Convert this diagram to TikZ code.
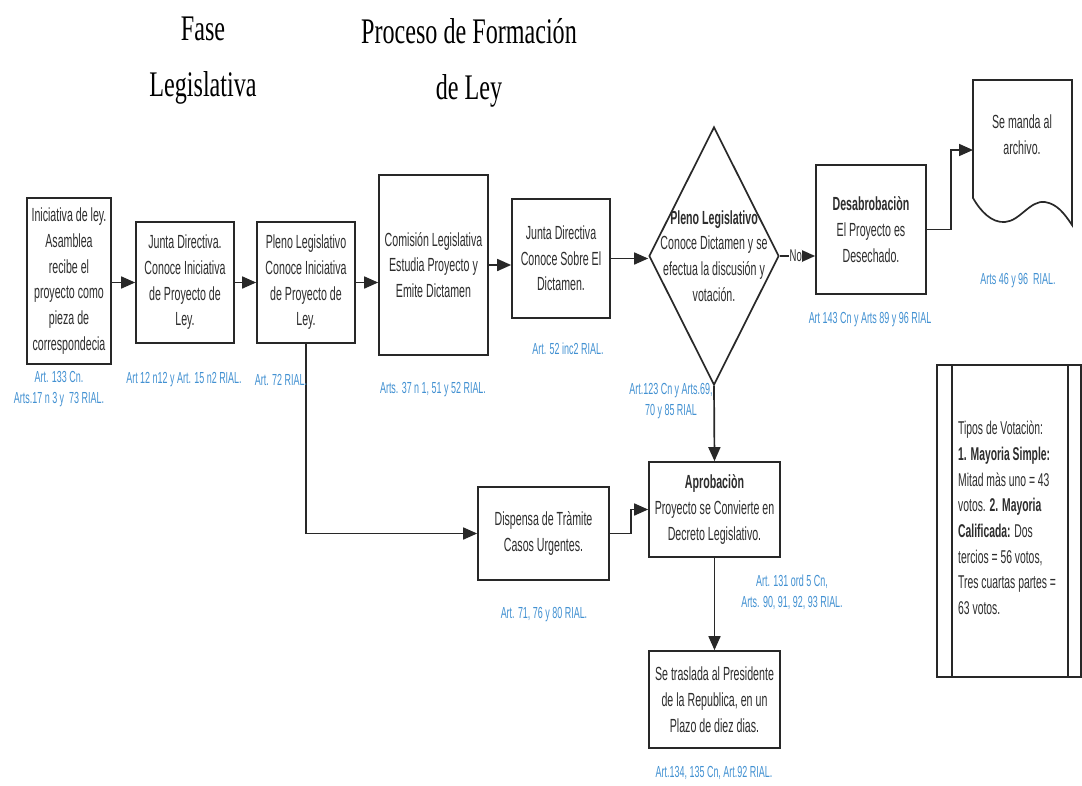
\documentclass[tikz,border=0pt]{standalone}
\usepackage{fontspec}
\setmainfont{Liberation Sans}[FakeStretch=0.56]
\newfontfamily\titlefont{Liberation Serif}[FakeStretch=0.67]
\usetikzlibrary{arrows.meta,shapes.geometric,calc}
\definecolor{lineclr}{RGB}{40,40,40}
\definecolor{txtclr}{RGB}{45,45,45}
\definecolor{refclr}{RGB}{66,145,210}
\tikzset{
  box/.style={draw=lineclr, line width=1.7pt, inner sep=0pt, align=center,
    text=txtclr, font=\fontsize{19}{25.7}\selectfont},
  reflabel/.style={text=refclr, align=center, inner sep=0pt,
    font=\fontsize{16}{21.5}\selectfont},
  bodytext/.style={text=txtclr, align=center, inner sep=0pt,
    font=\fontsize{19}{25.7}\selectfont},
  titletext/.style={text=black, align=center, inner sep=0pt,
    font=\titlefont\fontsize{36}{56}\selectfont},
  arr/.style={draw=lineclr, line width=1.7pt, -{Triangle[length=14pt,width=12pt]}},
  conn/.style={draw=lineclr, line width=1.7pt},
}
\begin{document}
\begin{tikzpicture}[x=1pt,y=-1pt]
\useasboundingbox (0,0) rectangle (1082,785);
\fill[white] (0,0) rectangle (1082,785);

% titles
\node[titletext] (t1) at (203,61) {Fase\\Legislativa};
\node[titletext] (t2) at (469,63) {Proceso de Formación\\de Ley};

% boxes
\node[box, minimum width=84pt, minimum height=166pt] (b1) at (69,281)
  {Iniciativa de ley.\\Asamblea\\recibe el\\proyecto como\\pieza de\\correspondecia};
\node[box, minimum width=98pt, minimum height=121pt] (b2) at (185,282.5)
  {Junta Directiva.\\Conoce Iniciativa\\de Proyecto de\\Ley.};
\node[box, minimum width=98pt, minimum height=121pt] (b3) at (306,282.5)
  {Pleno Legislativo\\Conoce Iniciativa\\de Proyecto de\\Ley.};
\node[box, minimum width=109pt, minimum height=180pt] (b4) at (433.5,265)
  {Comisión Legislativa\\Estudia Proyecto y\\Emite Dictamen};
\node[box, minimum width=98pt, minimum height=119pt] (b5) at (561,258.5)
  {Junta Directiva\\Conoce Sobre El\\Dictamen.};
\node[diamond, draw=lineclr, line width=1.7pt, inner sep=0pt,
  minimum width=130pt, minimum height=258pt] (d) at (714,256) {};
\node[bodytext] (dt) at (714,256)
  {\textbf{Pleno Legislativo}\\Conoce Dictamen y se\\efectua la discusión y\\votación.};
\node[box, minimum width=110pt, minimum height=129pt] (b7) at (871,229.5)
  {\textbf{Desabrobaciòn}\\El Proyecto es\\Desechado.};
\node[box, minimum width=131pt, minimum height=95pt] (b9) at (714.5,509.5)
  {\textbf{Aprobaciòn}\\Proyecto se Convierte en\\Decreto Legislativo.};
\node[box, minimum width=131pt, minimum height=93pt] (b10) at (543.5,533.5)
  {Dispensa de Tràmite\\Casos Urgentes.};
\node[box, minimum width=131pt, minimum height=97pt] (b11) at (714.5,699.5)
  {Se traslada al Presidente\\de la Republica, en un\\Plazo de diez dias.};

% document shape
\draw[conn, fill=white] (973,80) -- (1072,80) -- (1072,225)
  .. controls (1064,213) and (1057,204) .. (1045,202)
  .. controls (1030,200) and (1020,221) .. (1005,222)
  .. controls (992,223) and (981,212) .. (973,198) -- cycle;
\coordinate (docL) at (973,150);
\node[bodytext] (doct) at (1022,135) {Se manda al\\archivo.};

% votacion panel
\draw[conn] (937,365) rectangle (1081,677);
\draw[conn] (952,365) -- (952,677);
\draw[conn] (1068,365) -- (1068,677);
\node[text=txtclr, align=left, inner sep=0pt, anchor=west,
  font=\fontsize{18.5}{25.7}\selectfont] (vt) at (958,518)
  {Tipos de Votaciòn:\\\textbf{1. Mayoria Simple:}\\Mitad màs uno = 43\\votos. \textbf{2. Mayoria}\\\textbf{Calificada:} Dos\\tercios = 56 votos,\\Tres cuartas partes =\\63 votos.};

% connectors
\draw[arr] (b1.east |- b2.west) -- (b2.west);
\draw[arr] (b2.east) -- (b3.west);
\draw[arr] (b3.east) -- (b3.east -| b4.west);
\draw[arr] (b4.east) -- (b4.east -| b5.west);
\draw[arr] (b5.east) -- (b5.east -| d.west);
\draw[arr] (d.east) -- (d.east -| b7.west)
  node[pos=0.45, fill=white, inner sep=0.5pt, text=txtclr,
  font=\fontsize{17}{20}\selectfont] (no) {No};
\draw[arr] (b7.east) -- ++(24,0) |- (docL);
\draw[arr] (d.south) -- (b9.north);
\draw[arr] (b3.south) |- (b10.west);
\draw[arr] (b10.east) -- ++(21,0) |- (b9.west);
\draw[arr] (b9.south) -- (b11.north);

% reference labels
\node[reflabel] (r1) at (59,389) {Art. 133 Cn.\\Arts.17 n 3 y \ 73 RIAL.};
\node[reflabel] (r2) at (184,380) {Art 12 n12 y Art. 15 n2 RIAL.};
\node[reflabel] (r3) at (281,380) {Art. 72 RIAL.};
\node[reflabel] (r4) at (433,390) {Arts. 37 n 1, 51 y 52 RIAL.};
\node[reflabel] (r5) at (568,349) {Art. 52 inc2 RIAL.};
\node[reflabel] (r6) at (671,401) {Art.123 Cn y Arts.69,\\70 y 85 RIAL};
\node[reflabel] (r7) at (870,320) {Art 143 Cn y Arts 89 y 96 RIAL};
\node[reflabel] (r8) at (1018,281) {Arts 46 y 96 \ RIAL.};
\node[reflabel] (r9) at (544,615) {Art. 71, 76 y 80 RIAL.};
\node[reflabel] (r10) at (792,592) {Art. 131 ord 5 Cn,\\Arts. 90, 91, 92, 93 RIAL.};
\node[reflabel] (r11) at (714,773) {Art.134, 135 Cn, Art.92 RIAL.};
\end{tikzpicture}
\end{document}
